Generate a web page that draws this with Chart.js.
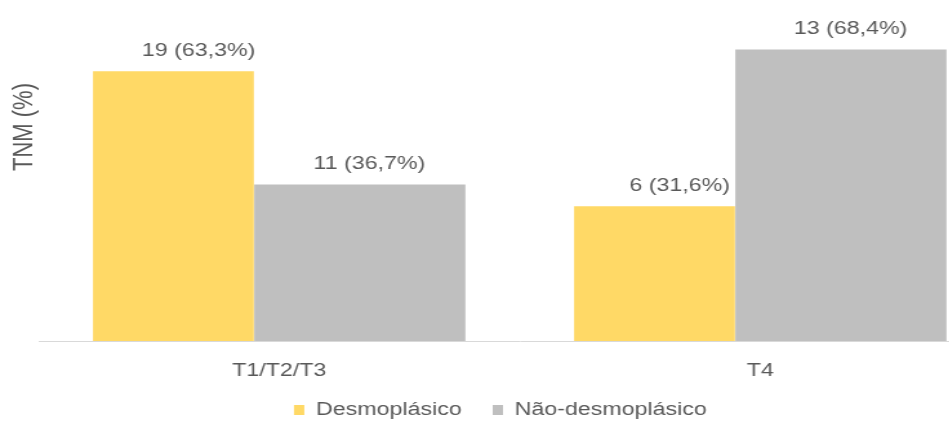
<!DOCTYPE html>
<html lang="pt">
<head>
<meta charset="utf-8">
<script src="https://cdn.jsdelivr.net/npm/chart.js@4.4.1/dist/chart.umd.min.js"></script>
<style>
  html, body { margin: 0; padding: 0; overflow: hidden; background: #ffffff; }
  #grafico { display: block; }
</style>
</head>
<body>
<!-- o original está esticado na horizontal, por isso o canvas é mostrado mais largo do que é -->
<canvas id="grafico" width="780" height="429" style="width: 1006px; height: 429px;"></canvas>
<script>
// dados do gráfico
const categorias = ["T1/T2/T3", "T4"];
const desmoN = [19, 6];
const desmoPct = [63.3, 31.6];
const naoDesmoN = [11, 13];
const naoDesmoPct = [36.7, 68.4];
const contagens = [desmoN, naoDesmoN];
const yMax = 80;

const FONTE = "'Liberation Sans', Arial, sans-serif";
const CINZA_TEXTO = "#595959";

// rótulos "n (x,x%)" em cima das barras
const rotulosPlugin = {
    id: "rotulos",
    afterDatasetsDraw(chart, args, opts) {
        const ctx = chart.ctx;
        ctx.save();
        ctx.font = "18px " + FONTE;
        ctx.fillStyle = CINZA_TEXTO;
        ctx.textAlign = "center";
        ctx.textBaseline = "middle";
        chart.data.datasets.forEach((ds, di) => {
            chart.getDatasetMeta(di).data.forEach((barra, i) => {
                const pct = ds.data[i].toFixed(1).replace(".", ",");
                const texto = `${contagens[di][i]} (${pct}%)`;
                ctx.fillText(texto, barra.x + opts.deslocar[di], barra.y - 20.5);
            });
        });
        ctx.restore();
    }
};

// título do eixo Y, mais para cima como no original
const tituloYPlugin = {
    id: "tituloY",
    afterDraw(chart, args, opts) {
        const ctx = chart.ctx;
        ctx.save();
        ctx.font = "22px " + FONTE;
        ctx.fillStyle = CINZA_TEXTO;
        ctx.textAlign = "center";
        ctx.textBaseline = "middle";
        ctx.translate(opts.x, opts.y);
        ctx.rotate(-Math.PI / 2);
        ctx.fillText(opts.texto, 0, 0);
        ctx.restore();
    }
};

Chart.defaults.font.family = FONTE;
Chart.defaults.color = CINZA_TEXTO;

const ctx = document.getElementById("grafico").getContext("2d");
new Chart(ctx, {
    type: "bar",
    data: {
        labels: categorias,
        datasets: [
            {
                label: "Desmoplásico",
                data: desmoPct,
                backgroundColor: "#FFD966",
                borderWidth: 0,
                categoryPercentage: 0.88,
                barPercentage: 0.76
            },
            {
                label: "Não-desmoplásico",
                data: naoDesmoPct,
                backgroundColor: "#BFBFBF",
                borderWidth: 0,
                categoryPercentage: 0.67,
                barPercentage: 1.31
            }
        ]
    },
    options: {
        responsive: false,
        devicePixelRatio: 1,
        animation: false,
        layout: { padding: { left: 0, right: 4, top: 0, bottom: 0 } },
        scales: {
            x: {
                grid: { display: false, drawTicks: false },
                border: { display: true, color: "#D9D9D9", width: 1 },
                ticks: { color: CINZA_TEXTO, font: { size: 18 }, padding: 19 },
                afterFit(scale) { scale.height = 36; }
            },
            y: {
                min: 0,
                max: yMax,
                grid: { display: false },
                border: { display: false },
                ticks: { display: false },
                afterFit(scale) { scale.width = 30; }
            }
        },
        plugins: {
            legend: {
                position: "bottom",
                labels: {
                    boxWidth: 8,
                    boxHeight: 10,
                    padding: 24,
                    color: CINZA_TEXTO,
                    font: { size: 18 }
                }
            },
            tooltip: { enabled: false },
            rotulos: { deslocar: [19.5, 7.5] },
            tituloY: { texto: "TNM (%)", x: 18.6, y: 127 }
        }
    },
    plugins: [rotulosPlugin, tituloYPlugin]
});
</script>
</body>
</html>
